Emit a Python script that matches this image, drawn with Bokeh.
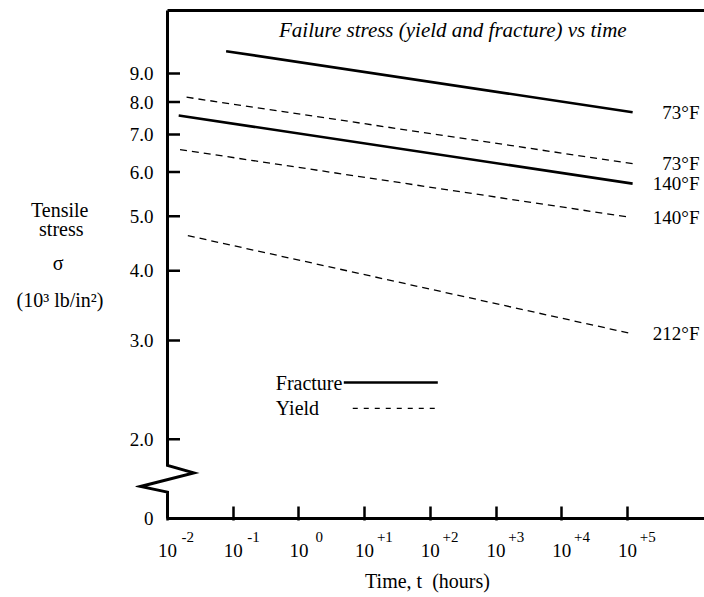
from bokeh.plotting import figure
from bokeh.models import (Range1d, FixedTicker, Label, LabelSet, ColumnDataSource, LogAxis)
from bokeh.core.properties import value
from bokeh.embed import file_html
from bokeh.resources import INLINE

FONT = "Liberation Serif"

# ---- axis ticks ----
x_ticks = [1e-2, 1e-1, 1e0, 1e1, 1e2, 1e3, 1e4, 1e5]
x_tick_base = ["10"] * 8
x_tick_sup = ["-2", "-1", "0", "+1", "+2", "+3", "+4", "+5"]
y_ticks = [2.0, 3.0, 4.0, 5.0, 6.0, 7.0, 8.0, 9.0]
y_tick_labels = ["2.0", "3.0", "4.0", "5.0", "6.0", "7.0", "8.0", "9.0"]
y_zero_label = "0"

# ---- series (time in hours, stress in 10^3 lb/in^2) ----
frac_73_t = [0.078, 1.2e5]
frac_73_s = [9.86, 7.67]
yield_73_t = [0.0195, 1.2e5]
yield_73_s = [8.16, 6.21]
frac_140_t = [0.0148, 1.2e5]
frac_140_s = [7.57, 5.72]
yield_140_t = [0.0155, 1.12e5]
yield_140_s = [6.58, 4.98]
yield_212_t = [0.0204, 1.12e5]
yield_212_s = [4.62, 3.09]
curve_labels = ["73°F", "73°F", "140°F", "140°F", "212°F"]

# ---- axis geometry (data units) ----
T_AXIS = 1e-2                 # position of the vertical (stress) axis
S_ZERO, S_TOP = 1.444, 11.66  # bottom ("0") and top of the stress axis
X_LO, X_HI = 10 ** -2.487, 10 ** 6.173
Y_LO, Y_HI = 1.432, 11.80

p = figure(width=704, height=597, x_axis_type="log", y_axis_type="log",
           x_range=Range1d(X_LO, X_HI), y_range=Range1d(Y_LO, Y_HI),
           output_backend="svg", toolbar_location=None,
           min_border_left=135, min_border_right=0, min_border_top=7, min_border_bottom=77)
p.grid.visible = False
p.outline_line_color = None
p.background_fill_color = "white"

def style_labels(ax, size):
    ax.major_label_text_font = FONT
    ax.major_label_text_font_size = size
    ax.major_label_text_color = "black"
    ax.minor_tick_line_color = None
    ax.major_tick_out = 0

# bottom axis 1: ticks + superscript exponents
PAD = "\u2002" * 5 + "\u2009"
xa = p.xaxis[0]
xa.ticker = FixedTicker(ticks=x_ticks, minor_ticks=[])
xa.major_label_overrides = {t: PAD + s for t, s in zip(x_ticks, x_tick_sup)}
style_labels(xa, "15px")
xa.major_label_standoff = 8
xa.major_tick_in = 14
xa.major_tick_line_width = 2.5
xa.major_tick_line_color = "black"
xa.axis_line_color = None

# bottom axis 2: base "10" + axis title
xb = LogAxis(ticker=FixedTicker(ticks=x_ticks, minor_ticks=[]),
             major_label_overrides={t: b for t, b in zip(x_ticks, x_tick_base)})
style_labels(xb, "19px")
xb.major_label_standoff = -4
xb.major_tick_in = 0
xb.major_tick_line_color = None
xb.axis_line_color = None
xb.axis_label = "\u00a0\u00a0\u00a0Time, t\u00a0 (hours)"
xb.axis_label_text_font = FONT
xb.axis_label_text_font_style = "normal"
xb.axis_label_text_font_size = "20px"
xb.axis_label_text_color = "black"
xb.axis_label_standoff = 10
p.add_layout(xb, "below")

# left axis 1: stress tick labels
ya = p.yaxis[0]
ya.ticker = FixedTicker(ticks=[S_ZERO] + y_ticks, minor_ticks=[])
ov = {t: l for t, l in zip(y_ticks, y_tick_labels)}
ov[S_ZERO] = y_zero_label
ya.major_label_overrides = ov
style_labels(ya, "19px")
ya.major_label_standoff = -18
ya.major_tick_in = 0
ya.major_tick_line_color = None
ya.axis_line_color = None

# left axis 2: horizontal multi-line axis title
ylab_text = ["Tensile\u00a0\u00a0\u00a0", "stress\u00a0\u00a0\u00a0\u00a0", "σ" + "\u00a0" * 8, "(10³ lb/in²)"]
ylab_y = [5.123, 4.738, 4.12, 3.538]
yl = LogAxis(ticker=FixedTicker(ticks=ylab_y, minor_ticks=[]),
             major_label_overrides={t: s for t, s in zip(ylab_y, ylab_text)})
style_labels(yl, "20px")
yl.major_label_standoff = 23
yl.major_tick_in = 0
yl.major_tick_line_color = None
yl.axis_line_color = None
p.add_layout(yl, "left")

# frame lines: top border, bottom axis line, stress axis with zig-zag break
AX_W = 3
p.line([T_AXIS, X_HI], [S_TOP, S_TOP], line_color="black", line_width=AX_W)
p.line([T_AXIS, X_HI], [S_ZERO, S_ZERO], line_color="black", line_width=AX_W)
brk_t = [T_AXIS, 10 ** -1.6, 10 ** -2.411, T_AXIS]
brk_s = [1.796, 1.742, 1.647, 1.609]
p.line([T_AXIS] + brk_t + [T_AXIS], [S_TOP] + brk_s + [S_ZERO],
       line_color="black", line_width=AX_W, line_join="miter")
# stress tick marks (inward)
tick_end = T_AXIS * 10 ** (12.5 / 65.7)
p.segment(x0=[T_AXIS] * len(y_ticks), y0=y_ticks, x1=[tick_end] * len(y_ticks), y1=y_ticks,
          line_color="black", line_width=2.5)

# data lines
SOLID_W = 2.6
DASH_W = 1.3
DASH = "7 5"
p.line(frac_73_t, frac_73_s, line_color="black", line_width=SOLID_W)
p.line(frac_140_t, frac_140_s, line_color="black", line_width=SOLID_W)
p.line(yield_73_t, yield_73_s, line_color="black", line_width=DASH_W, line_dash=DASH)
p.line(yield_140_t, yield_140_s, line_color="black", line_width=DASH_W, line_dash=DASH)
p.line(yield_212_t, yield_212_s, line_color="black", line_width=DASH_W, line_dash=DASH)

# curve labels at line ends
end_s = [frac_73_s[-1], yield_73_s[-1], frac_140_s[-1], yield_140_s[-1], yield_212_s[-1]]
lab_src = ColumnDataSource(dict(x=[X_HI] * 5, y=end_s, text=curve_labels))
p.add_layout(LabelSet(x="x", y="y", text="text", source=lab_src, x_offset=-5,
                      text_align="right", text_baseline="middle",
                      text_font=value(FONT), text_font_size=value("19px"), text_color="black"))

# title inside frame
p.add_layout(Label(x=220, y=10.74, text="Failure stress (yield and fracture) vs time",
                   text_align="center", text_baseline="middle", text_font=FONT,
                   text_font_style="italic", text_font_size="21px", text_color="black"))

# custom legend
p.add_layout(Label(x=0.4446, y=2.525, text="Fracture", text_align="left", text_baseline="middle",
                   text_font=FONT, text_font_size="20px", text_color="black"))
p.add_layout(Label(x=0.4446, y=2.27, text="Yield", text_align="left", text_baseline="middle",
                   text_font=FONT, text_font_size="20px", text_color="black"))
p.line([4.82, 130], [2.525, 2.525], line_color="black", line_width=SOLID_W)
p.line([6.6, 130], [2.27, 2.27], line_color="black", line_width=DASH_W, line_dash="5 6")

open("out.html", "w").write(file_html(p, INLINE))
